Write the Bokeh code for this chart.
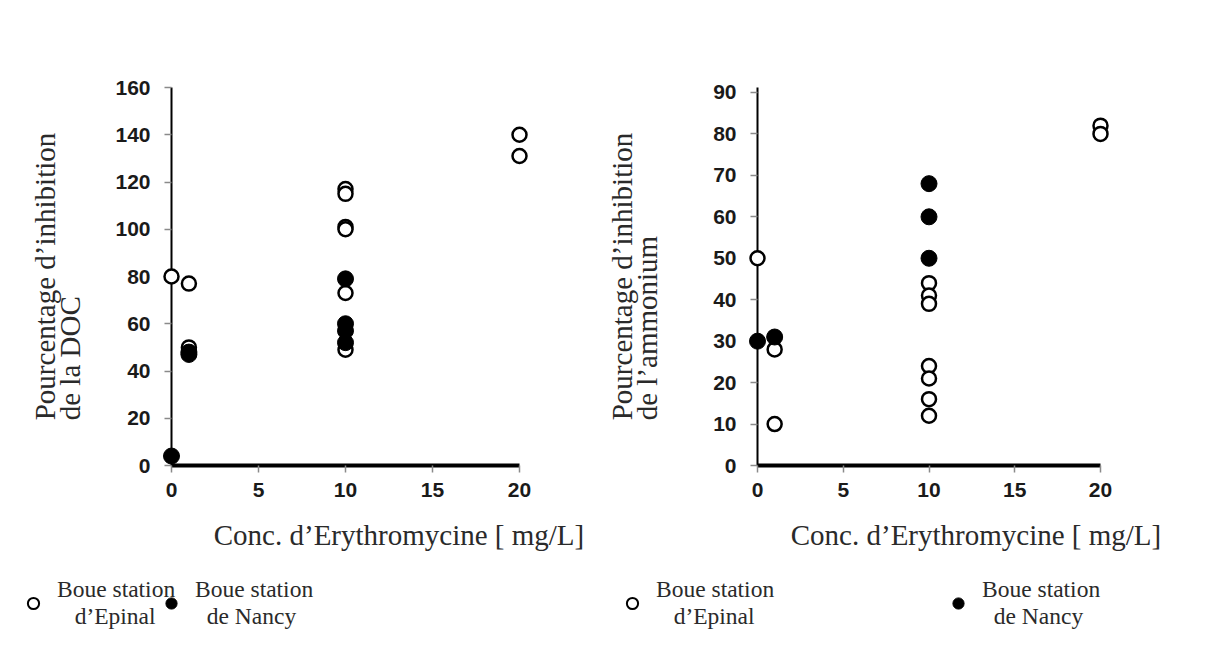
from bokeh.plotting import figure
from bokeh.models import Range1d, Legend, LegendItem, Title, FixedTicker, Label
from bokeh.layouts import row, column
from bokeh.embed import file_html
from bokeh.resources import INLINE

# ---- data ----
x_ticks = [0, 5, 10, 15, 20]

conc_epinal_doc = [0, 1, 1, 10, 10, 10, 10, 10, 10, 20, 20]
inhib_epinal_doc = [80, 77, 50, 117, 115, 101, 100, 73, 49, 140, 131]
conc_nancy_doc = [0, 1, 1, 10, 10, 10, 10]
inhib_nancy_doc = [4, 47, 48, 79, 60, 57, 52]
y_ticks_doc = [0, 20, 40, 60, 80, 100, 120, 140, 160]

conc_epinal_nh4 = [0, 1, 1, 10, 10, 10, 10, 10, 10, 10, 20, 20]
inhib_epinal_nh4 = [50, 28, 10, 44, 41, 39, 24, 21, 16, 12, 82, 80]
conc_nancy_nh4 = [0, 1, 10, 10, 10]
inhib_nancy_nh4 = [30, 31, 68, 60, 50]
y_ticks_nh4 = [0, 10, 20, 30, 40, 50, 60, 70, 80, 90]

x_title = "Conc. d\u2019Erythromycine [ mg/L]"
y_title_doc = "Pourcentage d\u2019inhibition\nde la DOC"
y_title_nh4 = "Pourcentage d\u2019inhibition\nde l\u2019ammonium"
NB = "\u00a0"
label_epinal = "Boue station\n" + NB * 3 + "d\u2019Epinal"
label_nancy = "Boue station\n" + NB * 2 + "de Nancy"

# ---- layout / style constants ----
SERIF = "Liberation Serif"
SANS = "Liberation Sans"
TXT = "#2a2a2a"
TOTAL_W, TOTAL_H = 1203, 636
MAIN_H = 512
STRIP_H = TOTAL_H - MAIN_H
TOP = 87
FRAME_H = 378
FRAME_W_L = 349
FRAME_W_R = 343
W_LEFT = 555


def make_panel(width, frame_w, ymax, yticks, ytitle, xe, ye, xn, yn,
               bl, yt_standoff):
    p = figure(width=width, height=MAIN_H, x_range=Range1d(0, 20),
               y_range=Range1d(0, ymax), output_backend="svg",
               toolbar_location=None, min_border_left=bl,
               min_border_right=width - bl - frame_w, min_border_top=TOP,
               min_border_bottom=MAIN_H - TOP - FRAME_H)
    p.outline_line_color = None
    p.grid.visible = False
    p.background_fill_color = "white"
    p.border_fill_color = "white"

    p.xaxis.ticker = FixedTicker(ticks=x_ticks)
    p.yaxis.ticker = FixedTicker(ticks=yticks)
    for ax in (p.xaxis, p.yaxis):
        ax.minor_tick_line_color = None
        ax.major_tick_in = 0
        ax.major_tick_out = 7
        ax.major_tick_line_color = "#8a8a8a"
        ax.major_tick_line_width = 1.5
        ax.axis_line_color = "black"
        ax.major_label_text_font = SANS
        ax.major_label_text_font_style = "bold"
        ax.major_label_text_font_size = "21px"
        ax.major_label_text_color = "#1a1a1a"
    p.xaxis.axis_line_width = 4
    p.yaxis.axis_line_width = 2
    p.xaxis.major_label_standoff = 10
    p.yaxis.major_label_standoff = 14

    p.add_layout(Title(text=ytitle, align="center",
                       text_font=SERIF, text_font_style="normal",
                       text_font_size="29px", text_color=TXT,
                       text_line_height=0.8, standoff=yt_standoff), "left")

    p.scatter(xe, ye, marker="circle", size=14, fill_color="white",
              line_color="black", line_width=2.5, level="overlay")
    p.scatter(xn, yn, marker="circle", size=16, fill_color="black",
              line_color="black", line_width=1, level="overlay")
    return p


p1 = make_panel(W_LEFT, FRAME_W_L, 160, y_ticks_doc, y_title_doc,
                conc_epinal_doc, inhib_epinal_doc,
                conc_nancy_doc, inhib_nancy_doc,
                170, 52)
p2 = make_panel(TOTAL_W - W_LEFT, FRAME_W_R, 91.2, y_ticks_nh4, y_title_nh4,
                conc_epinal_nh4, inhib_epinal_nh4,
                conc_nancy_nh4, inhib_nancy_nh4,
                202, 94)

# ---- strip below: x-axis titles and legends ----
pl = figure(width=TOTAL_W, height=STRIP_H, x_range=Range1d(0, 1),
            y_range=Range1d(0, 1), output_backend="svg",
            toolbar_location=None, min_border=0,
            x_axis_location=None, y_axis_location=None)
pl.outline_line_color = None
pl.grid.visible = False
pl.extra_x_ranges = {"px": Range1d(0, TOTAL_W)}
pl.extra_y_ranges = {"px": Range1d(0, STRIP_H)}

for xc in (398.5, 975.5):
    pl.add_layout(Label(x=xc, y=102, x_range_name="px", y_range_name="px",
                        text=x_title, text_align="center",
                        text_baseline="middle", text_font=SERIF,
                        text_font_style="normal", text_font_size="29px",
                        text_color=TXT))

# legend keys come from the series' own renderers (their points fall off-frame)
r_open = pl.scatter(conc_epinal_doc, inhib_epinal_doc, marker="circle",
                    fill_color="white", line_color="black", line_width=2)
r_fill = pl.scatter(conc_nancy_doc, inhib_nancy_doc, marker="circle",
                    fill_color="black", line_color="black", line_width=1)

for r, lab, xloc in ((r_open, label_epinal, 19), (r_fill, label_nancy, 157),
                     (r_open, label_epinal, 618), (r_fill, label_nancy, 944)):
    lg = Legend(items=[LegendItem(label=lab, renderers=[r])],
                location=(xloc, 0), padding=0, margin=0,
                label_text_font=SERIF, label_text_font_size="23.5px",
                label_text_color=TXT, label_standoff=10,
                glyph_width=28, glyph_height=66,
                background_fill_alpha=0, border_line_color=None)
    pl.add_layout(lg)

layout = column(row(p1, p2), pl)
open("out.html", "w").write(file_html(layout, INLINE))
